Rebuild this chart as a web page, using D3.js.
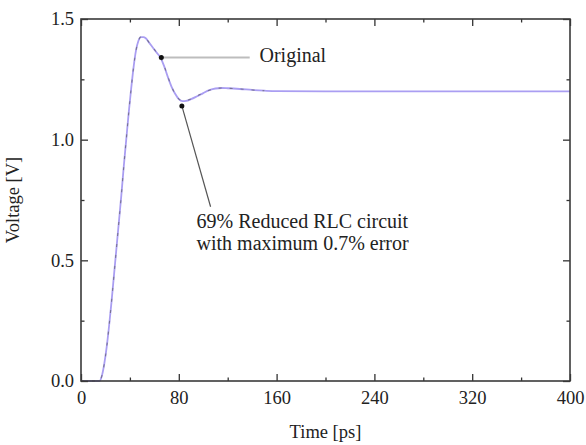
<!DOCTYPE html>
<meta charset="utf-8">
<script src="https://d3js.org/d3.v7.min.js"></script>
<style>
  body { margin: 0; background: #fff; }
  text, tspan { font-family: "Liberation Serif", "Times New Roman", serif; fill: #222; }
</style>
<div id="chart"></div>
<script>

// time in ps, voltage in V
const time = [0, 15, 17, 19, 21, 23, 25, 27, 29, 31, 33, 35, 37, 39, 41, 43, 45, 47, 49, 51,
  53, 56, 59, 62, 65, 68, 71, 74, 77, 80, 83, 86, 90, 95, 100, 105, 110, 115, 120, 130,
  140, 150, 160, 200, 240, 280, 320, 360, 400];
const reducedV = [0, 0, 0.02, 0.07, 0.14, 0.23, 0.33, 0.44, 0.55, 0.66, 0.77, 0.89, 1.0, 1.11, 1.21, 1.3, 1.37, 1.41, 1.425, 1.425,
  1.42, 1.4, 1.38, 1.36, 1.34, 1.305, 1.26, 1.22, 1.19, 1.168, 1.16, 1.161, 1.168, 1.18, 1.193, 1.205, 1.212, 1.214, 1.213, 1.21,
  1.206, 1.203, 1.201, 1.2, 1.2, 1.2, 1.2, 1.2, 1.2];
const originalTime = [0, 15, 17, 19, 21, 23, 25, 27, 29, 31, 33, 35, 37, 39, 41, 43, 45, 47, 49, 51,
  53, 56, 59, 62, 65, 68, 71, 74, 77, 80, 83, 86, 90, 95, 100, 105, 110, 115, 120, 130, 140, 150];
const originalV = [0, 0, 0.02, 0.07, 0.14, 0.23, 0.33, 0.44, 0.55, 0.66, 0.77, 0.89, 1.0, 1.11, 1.21, 1.3, 1.37, 1.41, 1.426, 1.426,
  1.42, 1.401, 1.381, 1.36, 1.341, 1.306, 1.262, 1.221, 1.19, 1.169, 1.161, 1.162, 1.169, 1.181, 1.194, 1.205, 1.212, 1.214, 1.213, 1.21, 1.206, 1.203];

const xMajor = [0, 80, 160, 240, 320, 400];
const xMinor = [40, 120, 200, 280, 360];
const yMajor = [0, 0.5, 1.0, 1.5];
const yMinor = [0.25, 0.75, 1.25];

// annotation anchors (data units)
const origDot = [65.7, 1.34], origLineEnd = [138, 1.34], origText = [146, 1.34];
const redDot = [82.5, 1.14], redLineEnd = [106, 0.722], redText = [94.5, 0.634];
const redLines = ["69% Reduced RLC circuit", "with maximum 0.7% error"];

const margin = {top: 19, right: 16, bottom: 64, left: 81},
    width = 586 - margin.left - margin.right,
    height = 445 - margin.top - margin.bottom;

const svg = d3.select("#chart")
  .append("svg")
    .attr("width", 586)
    .attr("height", 445)
  .append("g")
    .attr("transform", `translate(${margin.left},${margin.top})`);

const x = d3.scaleLinear().domain([0, 400]).range([0, width]);
const y = d3.scaleLinear().domain([0, 1.5]).range([height, 0]);

// curves
const line = d3.line().curve(d3.curveMonotoneX);

svg.append("path")
  .attr("d", line(time.map((t, i) => [x(t), y(reducedV[i])])))
  .attr("fill", "none")
  .attr("stroke", "#aa9ef2")
  .attr("stroke-width", 1.8);

svg.append("path")
  .attr("d", line(originalTime.map((t, i) => [x(t), y(originalV[i])])))
  .attr("fill", "none")
  .attr("stroke", "#555")
  .attr("stroke-opacity", 0.6)
  .attr("stroke-width", 1.1)
  .attr("stroke-dasharray", "3,8");

// axes, ticks inward on all sides
function noDomain(g) { g.select(".domain").remove(); g.selectAll("line").attr("stroke", "#333").attr("stroke-width", 1.3); }

svg.append("g")
  .attr("transform", `translate(0,${height})`)
  .call(d3.axisBottom(x).tickValues(xMajor).tickSizeInner(-7).tickSizeOuter(0).tickPadding(10).tickFormat(d3.format("d")))
  .call(noDomain)
  .call(g => g.selectAll("text").attr("font-size", 18.5).attr("font-family", "Liberation Serif").attr("fill", "#222"));
svg.append("g")
  .attr("transform", `translate(0,${height})`)
  .call(d3.axisBottom(x).tickValues(xMinor).tickSizeInner(-3.5).tickSizeOuter(0).tickFormat(""))
  .call(noDomain);
svg.append("g")
  .call(d3.axisTop(x).tickValues(xMajor).tickSizeInner(-7).tickSizeOuter(0).tickFormat(""))
  .call(noDomain);
svg.append("g")
  .call(d3.axisTop(x).tickValues(xMinor).tickSizeInner(-3.5).tickSizeOuter(0).tickFormat(""))
  .call(noDomain);

svg.append("g")
  .call(d3.axisLeft(y).tickValues(yMajor).tickSizeInner(-7).tickSizeOuter(0).tickPadding(7).tickFormat(d3.format(".1f")))
  .call(noDomain)
  .call(g => g.selectAll("text").attr("font-size", 18.5).attr("font-family", "Liberation Serif").attr("fill", "#222"));
svg.append("g")
  .call(d3.axisLeft(y).tickValues(yMinor).tickSizeInner(-3.5).tickSizeOuter(0).tickFormat(""))
  .call(noDomain);
svg.append("g")
  .attr("transform", `translate(${width},0)`)
  .call(d3.axisRight(y).tickValues(yMajor).tickSizeInner(-7).tickSizeOuter(0).tickFormat(""))
  .call(noDomain);
svg.append("g")
  .attr("transform", `translate(${width},0)`)
  .call(d3.axisRight(y).tickValues(yMinor).tickSizeInner(-3.5).tickSizeOuter(0).tickFormat(""))
  .call(noDomain);

// frame
svg.append("rect")
  .attr("width", width)
  .attr("height", height)
  .attr("fill", "none")
  .attr("stroke", "#3a3a3a")
  .attr("stroke-width", 1.6);

// axis titles
svg.append("text")
  .attr("x", width / 2)
  .attr("y", height + 57)
  .attr("text-anchor", "middle")
  .attr("font-size", 18.5)
  .text("Time [ps]");

svg.append("text")
  .attr("transform", `translate(-62,${height / 2}) rotate(-90)`)
  .attr("text-anchor", "middle")
  .attr("font-size", 18.5)
  .text("Voltage [V]");

// annotations
svg.append("line")
  .attr("x1", x(origDot[0])).attr("y1", y(origDot[1]))
  .attr("x2", x(origLineEnd[0])).attr("y2", y(origLineEnd[1]))
  .attr("stroke", "#bdbdbd").attr("stroke-width", 2);
svg.append("circle")
  .attr("cx", x(origDot[0])).attr("cy", y(origDot[1])).attr("r", 2.5).attr("fill", "#111");
svg.append("text")
  .attr("x", x(origText[0])).attr("y", y(origText[1]))
  .attr("dy", "0.2em")
  .attr("font-size", 20)
  .text("Original");

svg.append("line")
  .attr("x1", x(redDot[0])).attr("y1", y(redDot[1]))
  .attr("x2", x(redLineEnd[0])).attr("y2", y(redLineEnd[1]))
  .attr("stroke", "#555").attr("stroke-width", 1.2);
svg.append("circle")
  .attr("cx", x(redDot[0])).attr("cy", y(redDot[1])).attr("r", 2.5).attr("fill", "#111");
svg.append("text")
  .attr("x", x(redText[0])).attr("y", y(redText[1]))
  .attr("font-size", 20)
  .selectAll("tspan")
  .data(redLines)
  .join("tspan")
    .attr("x", x(redText[0]))
    .attr("dy", (d, i) => i === 0 ? 0 : 22)
    .text(d => d);

</script>
